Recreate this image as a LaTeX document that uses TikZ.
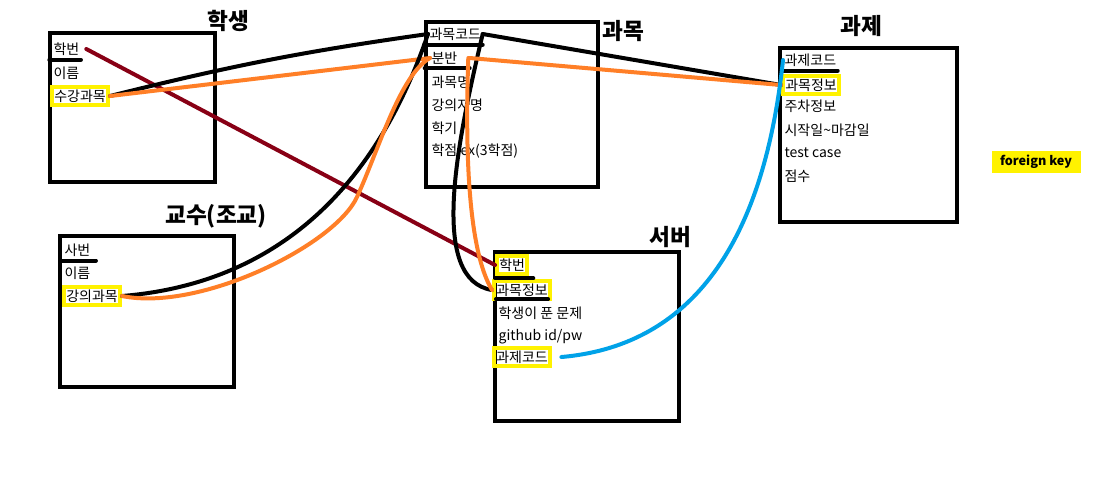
\documentclass[tikz,border=0pt]{standalone}
\usepackage{fontspec}
\setmainfont{Noto Sans CJK KR}
\definecolor{fkyellow}{HTML}{FFF200}
\definecolor{pkred}{HTML}{880015}
\definecolor{linkorange}{HTML}{FF7F27}
\definecolor{linkblue}{HTML}{00A2E8}
\begin{document}
\begin{tikzpicture}[x = 0.75pt, y = -0.75pt]
        \tikzset{Table/.style = {draw, line width = 3pt, anchor = north west, inner sep = 0pt},
            Title/.style = {font = \fontsize{17}{20}\selectfont\bfseries},
            Field/.style = {anchor = west, inner sep = 1pt, font = \fontsize{10.5}{12}\selectfont},
            FKey/.style  = {Field, draw = fkyellow, line width = 3pt, inner sep = 1.7pt},
            PKey/.style  = {line width = 3pt, line cap = round},
            Link/.style  = {line width = 3pt, line cap = round}}
        \path[fill = white, use as bounding box] (0,0) rectangle (1120,480);
        \node[Table, minimum width = 123.75pt, minimum height = 111.75pt] (Stu) at (48,31) {};
        \node[Title] (StuT) at (228,21) {학생};
        \node[Field] (StuNum) at (52,49) {학번};
        \node[Field] (StuName) at (52,73) {이름};
        \node[FKey]  (StuSub) at (50,96) {수강과목};
        \node[Table, minimum width = 129pt, minimum height = 123.75pt] (Sub) at (424,20) {};
        \node[Title] (SubT) at (623,31) {과목};
        \node[Field] (SubCode) at (428,34) {과목코드};
        \node[Field] (SubSec) at (430,58) {분반};
        \node[Field] (SubName) at (430,82) {과목명};
        \node[Field] (SubProf) at (430,105) {강의자명};
        \node[Field] (SubTerm) at (430,128) {학기};
        \node[Field] (SubCred) at (430,151) {학점 ex(3학점)};
        \node[Table, minimum width = 132.75pt, minimum height = 130.5pt] (Task) at (778,46) {};
        \node[Title] (TaskT) at (861,26) {과제};
        \node[Field] (TaskCode) at (783,60) {과제코드};
        \node[FKey]  (TaskSub) at (781,85) {과목정보};
        \node[Field] (TaskWeek) at (783,106) {주차정보};
        \node[Field] (TaskDate) at (783,130) {시작일\textasciitilde 마감일};
        \node[Field] (TaskTest) at (783,153) {test case};
        \node[Field] (TaskScore) at (783,176) {점수};
        \node[Table, minimum width = 138pt, minimum height = 126.75pt] (Srv) at (493,250) {};
        \node[Title] (SrvT) at (670,237) {서버};
        \node[FKey]  (SrvStu) at (495,265) {학번};
        \node[FKey]  (SrvSub) at (492,290) {과목정보};
        \node[Field] (SrvSolv) at (497,313) {학생이 푼 문제};
        \node[Field] (SrvGit) at (497,337) {github id/pw};
        \node[FKey]  (SrvTask) at (492,357) {과제코드};
        \node[Table, minimum width = 130.5pt, minimum height = 113.25pt] (Prof) at (58,234) {};
        \node[Title] (ProfT) at (216,216) {교수(조교)};
        \node[Field] (ProfNum) at (63,250) {사번};
        \node[Field] (ProfName) at (63,273) {이름};
        \node[FKey]  (ProfSub) at (62,296) {강의과목};
        \node[fill = fkyellow, minimum width = 66.75pt, minimum height = 15.75pt,
            font = \fontsize{9.5}{11}\selectfont\bfseries] (FK) at (1036,162) {foreign key};
        \draw[PKey] ([xshift = -2pt, yshift = -2pt]StuNum.south west) -- ([yshift = -2pt]StuNum.south east);
        \draw[PKey] ([xshift = -3pt, yshift = -2pt]SubCode.south west) -- ([yshift = -2pt]SubCode.south east);
        \draw[PKey] ([xshift = -4pt, yshift = -2pt]SubSec.south west) -- ([xshift = 8pt, yshift = -2pt]SubSec.south east);
        \draw[PKey] ([yshift = -2pt]TaskCode.south west) -- ([yshift = -2pt]TaskCode.south east);
        \draw[PKey] ([yshift = -2pt]SrvStu.south west) -- ([xshift = 3pt, yshift = -2pt]SrvStu.south east);
        \draw[PKey] ([xshift = 3pt, yshift = 1pt]SrvSub.south west) -- ([xshift = -3pt, yshift = 1pt]SrvSub.south east);
        \draw[PKey] ([xshift = -2pt, yshift = -2pt]ProfNum.south west) -- ([xshift = 3pt, yshift = -2pt]ProfNum.south east);
        \draw[Link, pkred] ([xshift = 4pt]StuNum.east) -- (SrvStu.west);
        \draw[Link] (StuSub.east) to[bend left = 3] (SubCode.west);
        \draw[Link, linkorange] (StuSub.east) -- (SubSec.west);
        \draw[Link] (ProfSub.east) .. controls (320,280) and (395,130) .. (SubCode.west);
        \draw[Link, linkorange] (ProfSub.east) .. controls (200,312) and (335,245) .. (357,197)
            .. controls (379,149) and (400,75) .. (SubSec.west);
        \draw[Link] (SubCode.east) -- (TaskSub.west);
        \draw[Link] (SubCode.east) .. controls (455,150) and (430,280) .. (SrvSub.west);
        \draw[Link, linkorange] ([xshift = 8pt]SubSec.east) -- (TaskSub.west);
        \draw[Link, linkorange] ([xshift = 7pt]SubSec.east) .. controls (465,150) and (468,250) .. (SrvSub.west);
        \draw[Link, linkblue] ([xshift = 7pt]SrvTask.east) .. controls (700,345) and (765,230) .. (TaskCode.west);
      \end{tikzpicture}
\end{document}
